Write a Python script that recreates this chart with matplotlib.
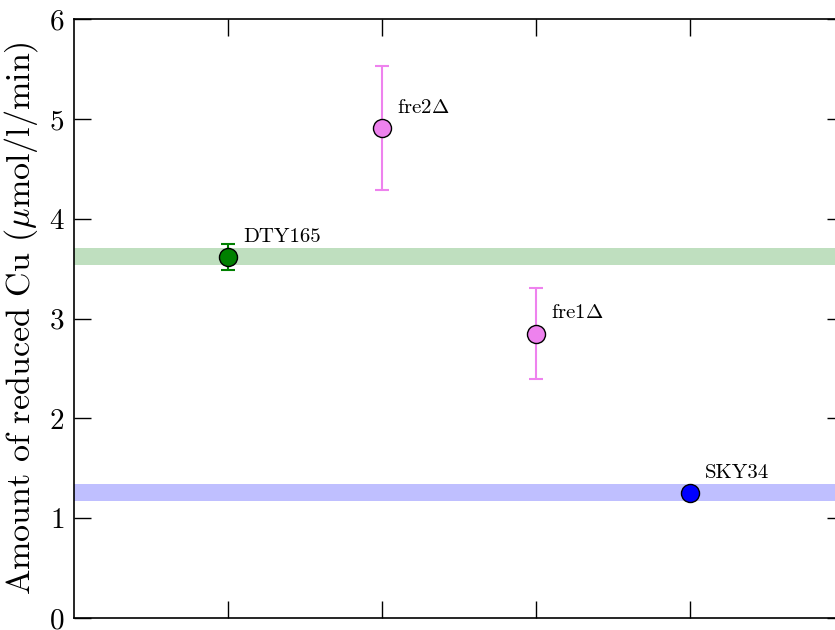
import matplotlib
matplotlib.use("Agg")
import matplotlib.pyplot as plt

plt.rcParams['font.family'] = 'serif'
plt.rcParams['font.serif'] = ['cmr10']
plt.rcParams['mathtext.fontset'] = 'cm'
plt.rcParams['axes.formatter.use_mathtext'] = True

strains = ['DTY165', 'fre2$\\Delta$', 'fre1$\\Delta$', 'SKY34']
xpos = [1, 2, 3, 4]
values = [3.62, 4.91, 2.85, 1.25]
errors = [0.13, 0.62, 0.46, 0.0]
colors = ['green', 'violet', 'violet', 'blue']
bands = [(3.535, 3.705, 'green'), (1.17, 1.34, 'blue')]

fig = plt.figure(figsize=(8.35, 6.3), dpi=100)
ax = fig.add_axes([0.0886, 0.019, 0.922, 0.9508])

for lo, hi, c in bands:
    ax.axhspan(lo, hi, color=c, alpha=0.25, lw=0, zorder=1)

for x, v, e, c, s in zip(xpos, values, errors, colors, strains):
    if e > 0:
        ax.errorbar(x, v, yerr=e, fmt='none', ecolor=c, elinewidth=1.5,
                    capsize=5, capthick=1.5, zorder=2)
    ax.plot(x, v, 'o', color=c, mec='black', mew=1.0, ms=13, zorder=3)
    ax.annotate(s, (x, v), xytext=(11, 8), textcoords='offset points',
                fontsize=15, ha='left', va='bottom')

ax.set_xlim(0, 5)
ax.set_ylim(0, 6)
ax.set_xticks(xpos)
ax.set_xticklabels([])
ax.set_yticks(range(0, 7))
ax.tick_params(axis='both', direction='in', length=12, width=1,
               top=True, right=True, labelsize=21, pad=7)
ax.set_ylabel('Amount of reduced Cu ($\\mu$mol/l/min)', fontsize=24.5, labelpad=6)
for sp in ax.spines.values():
    sp.set_linewidth(1.2)

fig.savefig('out.png', dpi=100)
